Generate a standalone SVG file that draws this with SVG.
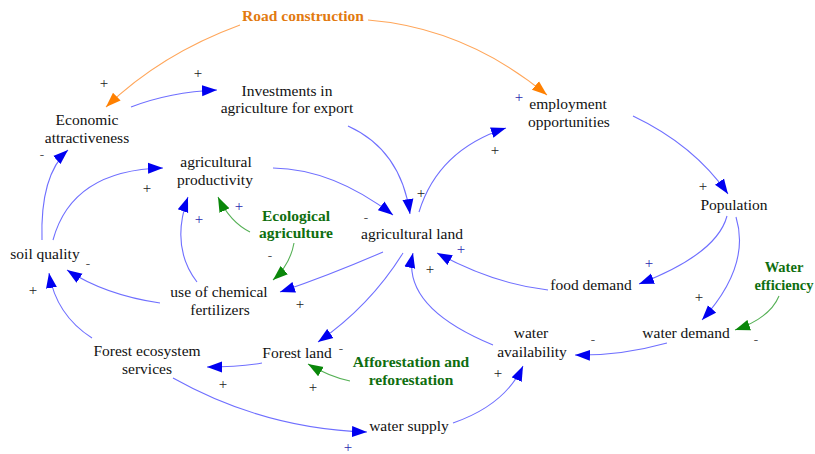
<svg xmlns="http://www.w3.org/2000/svg" width="815" height="454" viewBox="0 0 815 454" font-family="'Liberation Serif', 'DejaVu Serif', serif">
<style>
text{font-family:'Liberation Serif','Times New Roman','DejaVu Serif',serif;font-size:15.5px;text-anchor:middle;fill:#111}
.g{fill:#0f6e0f;font-weight:bold}
.o{fill:#e27a10;font-weight:bold}
.s{font-size:14.5px}
.p{font-size:15px;fill:#222}
.pb{font-size:15px;fill:#2a2ab0}
.m{font-size:13px;fill:#555}
.cb{fill:none;stroke:#6f6fff;stroke-width:1.1;marker-end:url(#hb)}
.co{fill:none;stroke:#ffa65a;stroke-width:1.1;marker-end:url(#ho)}
.cg{fill:none;stroke:#55b055;stroke-width:1.1;marker-end:url(#hg)}
</style>
<defs>
<marker id="hb" markerUnits="userSpaceOnUse" markerWidth="16" markerHeight="12" viewBox="0 0 16 12" refX="15" refY="6" orient="auto"><path d="M0,0.5 L15,6 L0,11.5 z" fill="#0000f0"/></marker>
<marker id="ho" markerUnits="userSpaceOnUse" markerWidth="16" markerHeight="12" viewBox="0 0 16 12" refX="15" refY="6" orient="auto"><path d="M0,0.5 L15,6 L0,11.5 z" fill="#ff8000"/></marker>
<marker id="hg" markerUnits="userSpaceOnUse" markerWidth="16" markerHeight="12" viewBox="0 0 16 12" refX="15" refY="6" orient="auto"><path d="M0,0.5 L15,6 L0,11.5 z" fill="#0a870a"/></marker>
</defs>
<rect width="815" height="454" fill="#fff"/>
<g id="connectors">
<path class="co" d="M240,25 Q161,54 106,107"/>
<path class="co" d="M368,20 Q466,28 547,95"/>
<path class="cb" d="M131,107 Q170,92 217,90"/>
<path class="cb" d="M348,126 Q401,150 410,214"/>
<path class="cb" d="M273,168 Q333,169 393,215"/>
<path class="cb" d="M419,212 Q438,150 506,128"/>
<path class="cb" d="M633,116 Q694,145 728,194"/>
<path class="cb" d="M727,216 Q717,254 639,284"/>
<path class="cb" d="M736,217 Q751,266 702,320"/>
<path class="cg" d="M779,296 Q770,318 735,330"/>
<path class="cb" d="M548,290 Q494,284 437,253"/>
<path class="cb" d="M493,345 Q401,307 413,253"/>
<path class="cb" d="M667,343 Q620,356 575,355"/>
<path class="cb" d="M453,423 Q505,405 523,366"/>
<path class="cb" d="M173,378 Q264,429 367,432"/>
<path class="cb" d="M262,363 Q240,367 207,367"/>
<path class="cb" d="M403,253 Q370,306 318,342"/>
<path class="cg" d="M350,381 Q330,377 308,364"/>
<path class="cb" d="M383,252 Q330,275 280,292"/>
<path class="cg" d="M294,243 Q290,265 273,280"/>
<path class="cg" d="M250,232 Q230,222 218,197"/>
<path class="cb" d="M197,282 Q170,247 188,197"/>
<path class="cb" d="M160,303 Q105,295 67,270"/>
<path class="cb" d="M92,338 Q56,315 49,273"/>
<path class="cb" d="M42,240 Q40,175 68,150"/>
<path class="cb" d="M53,240 Q72,170 163,168"/>
</g>
<g id="polarities">
<text class="p" x="104" y="88">+</text>
<text class="p" x="198" y="78">+</text>
<text class="pb" x="519" y="102">+</text>
<text class="p" x="421" y="198">+</text>
<text class="m" x="366" y="222">-</text>
<text class="p" x="495" y="155">+</text>
<text class="p" x="703" y="191">+</text>
<text class="pb" x="649" y="268">+</text>
<text class="p" x="699" y="302">+</text>
<text class="m" x="756" y="344">-</text>
<text class="pb" x="461" y="254">+</text>
<text class="p" x="430" y="274">+</text>
<text class="m" x="593" y="344">-</text>
<text class="p" x="498" y="378">+</text>
<text class="pb" x="348" y="452">+</text>
<text class="p" x="223" y="389">+</text>
<text class="m" x="341" y="353">-</text>
<text class="p" x="313" y="392">+</text>
<text class="p" x="300" y="309">+</text>
<text class="m" x="270" y="260">-</text>
<text class="pb" x="239" y="211">+</text>
<text class="pb" x="199" y="224">+</text>
<text class="m" x="88" y="268">-</text>
<text class="p" x="33" y="295">+</text>
<text class="m" x="42" y="159">-</text>
<text class="p" x="147" y="193">+</text>
</g>
<g id="road-construction"><text class="o" x="303" y="21">Road construction</text></g>
<g id="economic-attractiveness"><text x="87" y="125">Economic</text><text x="87" y="143">attractiveness</text></g>
<g id="investments"><text x="287" y="96">Investments in</text><text x="287" y="113">agriculture for export</text></g>
<g id="agricultural-productivity"><text x="216" y="167">agricultural</text><text x="215" y="185">productivity</text></g>
<g id="employment-opportunities"><text x="568" y="109">employment</text><text x="569" y="127">opportunities</text></g>
<g id="population"><text x="734" y="210">Population</text></g>
<g id="agricultural-land"><text x="412" y="239">agricultural land</text></g>
<g id="ecological-agriculture"><text class="g" x="296" y="221">Ecological</text><text class="g" x="296" y="238">agriculture</text></g>
<g id="soil-quality"><text x="45" y="259">soil quality</text></g>
<g id="use-of-chemical-fertilizers"><text x="219" y="297">use of chemical</text><text x="220" y="315">fertilizers</text></g>
<g id="food-demand"><text x="591" y="290">food demand</text></g>
<g id="water-efficiency"><text class="g s" x="784" y="272">Water</text><text class="g s" x="784" y="290">efficiency</text></g>
<g id="water-demand"><text x="686" y="338">water demand</text></g>
<g id="water-availability"><text x="531" y="338">water</text><text x="532" y="357">availability</text></g>
<g id="forest-ecosystem-services"><text x="147" y="356">Forest ecosystem</text><text x="147" y="374">services</text></g>
<g id="forest-land"><text x="297" y="358">Forest land</text></g>
<g id="afforestation"><text class="g" x="411" y="367">Afforestation and</text><text class="g" x="411" y="385">reforestation</text></g>
<g id="water-supply"><text x="409" y="431">water supply</text></g>
</svg>
